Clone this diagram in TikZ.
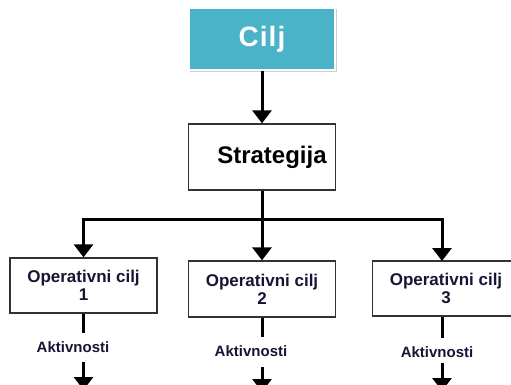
\documentclass[tikz,border=0pt]{standalone}
\usepackage{fontspec}
\setmainfont{Liberation Sans}
\usetikzlibrary{arrows.meta}
\definecolor{tealbox}{RGB}{75,179,200}
\definecolor{txt}{RGB}{22,22,52}
\definecolor{boxgray}{RGB}{50,50,50}
\definecolor{shadowgray}{RGB}{205,205,205}
\begin{document}
\begin{tikzpicture}[x=1pt,y=-1pt,
  conn/.style={line width=3pt},
  arr/.style={conn,-{Triangle[width=19pt,length=13pt]}},
  opbox/.style={draw=boxgray, line width=1.3pt, fill=white, minimum width=147pt,
    minimum height=55pt, inner sep=0pt, align=center, text=txt,
    font=\fontsize{17}{18}\selectfont\bfseries},
  akt/.style={inner sep=0pt, text=txt, font=\fontsize{15}{16}\selectfont\bfseries}]
\useasboundingbox (0,0) rectangle (511,385);
\clip (0,0) rectangle (511,385);
% Cilj
\fill[shadowgray] (189.5,9.5) rectangle (336.5,72);
\node[draw=white, line width=1.5pt, fill=tealbox, minimum width=146pt, minimum height=62pt,
  inner sep=0pt, text=white, font=\fontsize{28}{30}\selectfont\bfseries] (cilj) at (262,39) {C\kern1pt i\kern1pt l\kern1pt j};
% Strategija
\node[draw=boxgray, line width=1.3pt, fill=white, minimum width=147pt, minimum height=66pt,
  inner sep=0pt, font=\fontsize{24}{26}\selectfont\bfseries] (strat) at (262,157) {\hspace*{20pt}Strategija};
% operational goals
\node[opbox] (op1) at (83.5,285.5) {Operativni cilj\\1};
\node[opbox, minimum height=56pt] (op2) at (262,289) {Operativni cilj\\2};
\node[opbox] (op3) at (446,288.5) {Operativni cilj\\3};
% activities
\node[akt] (a1) at (73,347) {Aktivnosti};
\node[akt] (a2) at (251,351) {Aktivnosti};
\node[akt] (a3) at (437,352) {Aktivnosti};
% coordinates
\coordinate (j) at (262,219);
\coordinate (j3) at (442,219);
\coordinate (t3) at (442,261);
\coordinate (l1) at (83.5,333);
\coordinate (l2) at (262,337);
\coordinate (l3) at (442,338);
\coordinate (s1) at (83.5,362);
\coordinate (e1) at (83.5,390);
\coordinate (s2) at (262,367);
\coordinate (e2) at (262,392);
\coordinate (s3) at (442,363);
\coordinate (e3) at (442,391);
% connectors
\draw[arr] (cilj) -- (strat);
\draw[conn] (strat.south) -- (j);
\draw[arr] (j) -| (op1);
\draw[arr] (j) -- (op2);
\draw[arr] (j) -- (j3) -- (t3);
\draw[conn] (op1.south) -- (l1);
\draw[conn] (op2.south) -- (l2);
\draw[conn] (op3.south -| l3) -- (l3);
\draw[arr] (s1) -- (e1);
\draw[arr] (s2) -- (e2);
\draw[arr] (s3) -- (e3);
\end{tikzpicture}
\end{document}
